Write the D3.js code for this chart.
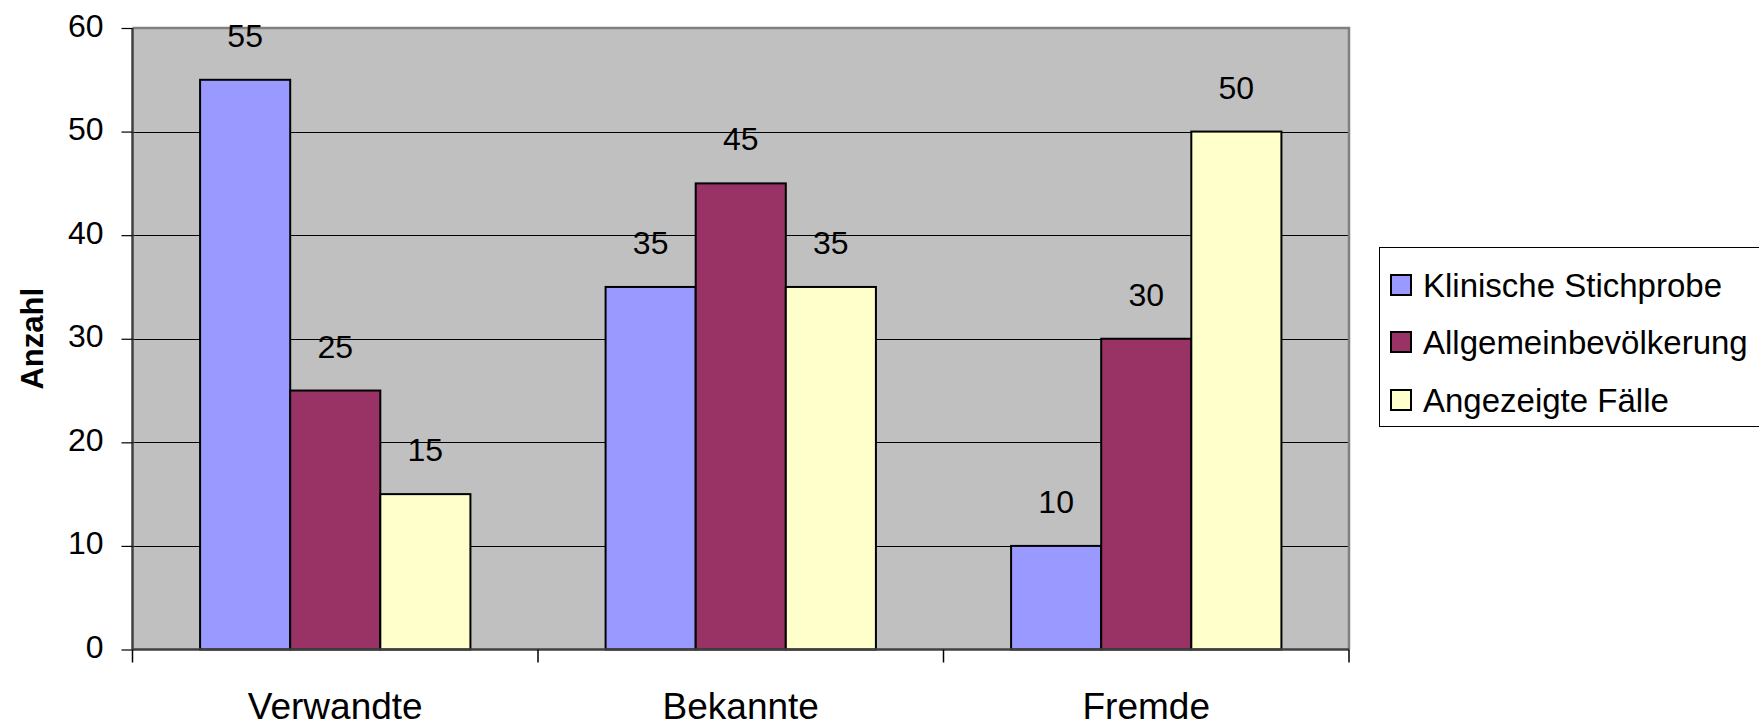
<!DOCTYPE html>
<html><head><meta charset="utf-8">
<script src="https://cdn.jsdelivr.net/npm/d3@7"></script>
<style>body{margin:0;background:#fff;}svg{display:block;font-family:Arial,"Liberation Sans",sans-serif;}</style>
</head><body>
<svg id="c" width="1759" height="727"></svg>
<script>
const categories = ["Verwandte", "Bekannte", "Fremde"];
const seriesNames = ["Klinische Stichprobe", "Allgemeinbevölkerung", "Angezeigte Fälle"];
const klinisch = [55, 35, 10];
const allgemein = [25, 45, 30];
const angezeigt = [15, 35, 50];
const yTicks = [0, 10, 20, 30, 40, 50, 60];
const colors = ["#9999FF", "#993366", "#FFFFCC"];
const seriesValues = [klinisch, allgemein, angezeigt];

const svg = d3.select("#c");
const L = 132.5, R = 1349, T = 28, B = 649.5;
const y = d3.scaleLinear().domain([0, 60]).range([B, T]);
const x = d3.scaleBand().domain(categories).range([L, R]).paddingInner(0).paddingOuter(0);
const xs = d3.scaleBand().domain(seriesNames).range([0, x.bandwidth()]).paddingInner(0).paddingOuter(0.75);

// plot background
svg.append("rect").attr("x", L).attr("y", T).attr("width", R - L).attr("height", B - T).attr("fill", "#C0C0C0");
// gridlines
svg.append("g").selectAll("line").data(yTicks.filter(d => d > 0 && d < 60)).join("line")
  .attr("x1", L).attr("x2", R).attr("y1", d => Math.round(y(d)) + 0.5).attr("y2", d => Math.round(y(d)) + 0.5)
  .attr("stroke", "#000").attr("stroke-width", 1);
// border top/right
svg.append("path").attr("d", `M${L},${T} H${R} V${B}`).attr("fill", "none").attr("stroke", "#808080").attr("stroke-width", 2.5);

// bars
const data = [];
categories.forEach((c, i) => seriesNames.forEach((s, j) => data.push({c, s, v: seriesValues[j][i], j})));
const g = svg.append("g");
g.selectAll("rect").data(data).join("rect")
  .attr("x", d => x(d.c) + xs(d.s)).attr("y", d => y(d.v))
  .attr("width", xs.bandwidth()).attr("height", d => y(0) - y(d.v))
  .attr("fill", d => colors[d.j]).attr("stroke", "#000").attr("stroke-width", 2);
// value labels
g.selectAll("text").data(data).join("text")
  .attr("x", d => x(d.c) + xs(d.s) + xs.bandwidth() / 2).attr("y", d => y(d.v) - 33)
  .attr("text-anchor", "middle").attr("font-size", 32).attr("fill", "#000").text(d => d.v);

// y axis
const yAxis = svg.append("g").attr("transform", `translate(${L},0)`)
  .call(d3.axisLeft(y).tickValues(yTicks).tickSize(11).tickPadding(18).tickFormat(d3.format("d")));
yAxis.select(".domain").attr("stroke", "#404040").attr("stroke-width", 2.5).attr("d", `M0,${T}V${B}`);
yAxis.selectAll(".tick line").attr("stroke", "#000").attr("stroke-width", 1.2);
yAxis.selectAll(".tick text").attr("font-size", 32).attr("font-family", "Arial, 'Liberation Sans', sans-serif").attr("fill", "#000").attr("dy", "0.25em");

// x axis
const xAxis = svg.append("g").attr("transform", `translate(0,${B})`)
  .call(d3.axisBottom(x).tickSize(0).tickPadding(43));
xAxis.select(".domain").attr("stroke", "#404040").attr("stroke-width", 2.5).attr("d", `M${L},0H${R}`);
xAxis.selectAll(".tick text").attr("font-size", 37).attr("font-family", "Arial, 'Liberation Sans', sans-serif").attr("fill", "#000");
// category separator ticks
const bounds = categories.map(c => x(c)).concat([R]);
svg.append("g").selectAll("line").data(bounds).join("line")
  .attr("x1", d => d).attr("x2", d => d).attr("y1", B).attr("y2", B + 13)
  .attr("stroke", "#000").attr("stroke-width", 1.5);

// y title
svg.append("text").attr("transform", `translate(43,${(T + B) / 2}) rotate(-90)`)
  .attr("text-anchor", "middle").attr("font-size", 31).attr("font-weight", "bold").text("Anzahl");

// legend
const lg = svg.append("g");
lg.append("rect").attr("x", 1379.5).attr("y", 247.5).attr("width", 400).attr("height", 179)
  .attr("fill", "#fff").attr("stroke", "#000").attr("stroke-width", 1);
const rowY = [285, 342, 400];
seriesNames.forEach((s, i) => {
  lg.append("rect").attr("x", 1391).attr("y", rowY[i] - 10).attr("width", 20).attr("height", 20)
    .attr("fill", colors[i]).attr("stroke", "#000").attr("stroke-width", 2);
  lg.append("text").attr("x", 1423).attr("y", rowY[i]).attr("dy", "0.35em")
    .attr("font-size", 33).text(s);
});
</script>
</body></html>
